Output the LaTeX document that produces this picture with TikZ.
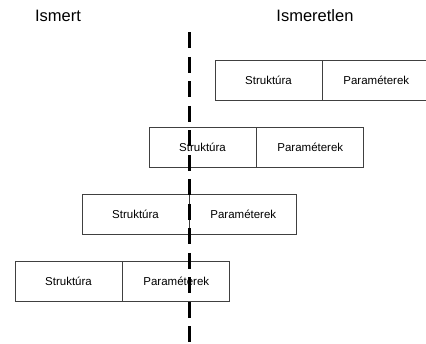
\documentclass[tikz,border=0pt]{standalone}
\usepackage{fontspec}
\setmainfont{Liberation Sans}
\usetikzlibrary{positioning}

\begin{document}
\begin{tikzpicture}[x=1pt,y=-1pt,node distance=0pt,
                    inner sep=2pt]
    \tikzset{
      half/.style={
        draw=black!75,
        line width=0.8pt,
        minimum width=107pt,
        minimum height=40pt,
        font=\fontsize{11.5}{13}\selectfont
      },
      side/.style={
        font=\fontsize{16.5}{19}\selectfont
      },
      border/.style={
        line width=3.6pt,
        dash pattern=on 16pt off 8.5pt
      }
    }
    \useasboundingbox (0,0) rectangle (426,343);

    % Headings
    \node [side] (known)   at (58,16)  {Ismert};
    \node [side] (unknown) at (315,16) {Ismeretlen};

    % Boxes
    \node [half] (struct1) at (268.5,80.3)  {Struktúra};
    \node [half] (param1)  [right=of struct1] {Paraméterek};
    \node [half] (struct2) at (202.5,147.5) {Struktúra};
    \node [half] (param2)  [right=of struct2] {Paraméterek};
    \node [half] (struct3) at (135.5,214.7) {Struktúra};
    \node [half] (param3)  [right=of struct3] {Paraméterek};
    \node [half] (struct4) at (68.5,281.7)  {Struktúra};
    \node [half] (param4)  [right=of struct4] {Paraméterek};

    % Dividing line
    \coordinate (top)    at (189.3,32.3);
    \coordinate (bottom) at (189.3,345);
    \draw [border] (top) -- (bottom);
\end{tikzpicture}
\end{document}
